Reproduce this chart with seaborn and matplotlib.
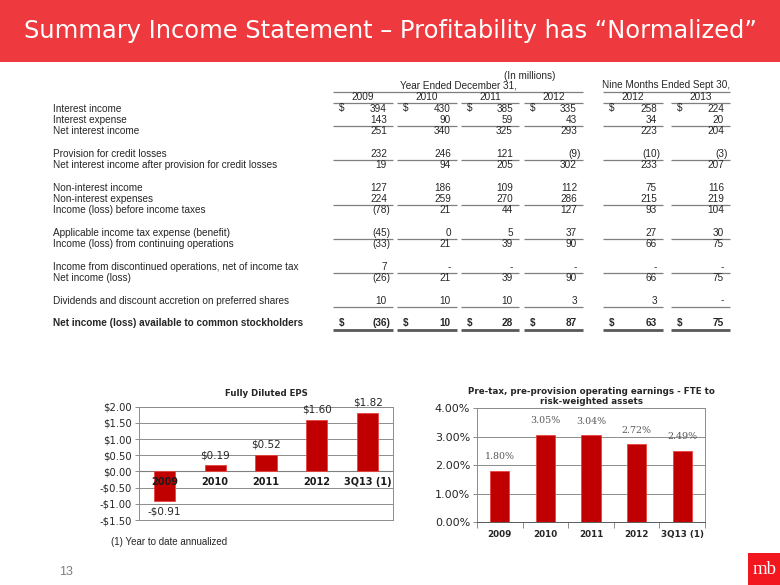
import numpy as np
import pandas as pd
import matplotlib
matplotlib.use("Agg")
import matplotlib.pyplot as plt
from matplotlib.patches import Rectangle
from matplotlib.ticker import FuncFormatter, FixedLocator
import seaborn as sns

# ------------------------------------------------------------------ data
title = "Summary Income Statement \u2013 Profitability has \u201cNormalized\u201d"
units_label = "(In millions)"
group_labels = ["Year Ended December 31,", "Nine Months Ended Sept 30,"]
column_years = ["2009", "2010", "2011", "2012", "2012", "2013"]

row_labels = [
    "Interest income",
    "Interest expense",
    "Net interest income",
    "Provision for credit losses",
    "Net interest income after provision for credit losses",
    "Non-interest income",
    "Non-interest expenses",
    "Income (loss) before income taxes",
    "Applicable income tax expense (benefit)",
    "Income (loss) from continuing operations",
    "Income from discontinued operations, net of income tax",
    "Net income (loss)",
    "Dividends and discount accretion on preferred shares",
    "Net income (loss) available to common stockholders",
]
interest_income = [394, 430, 385, 335, 258, 224]
interest_expense = [143, 90, 59, 43, 34, 20]
net_interest_income = [251, 340, 325, 293, 223, 204]
provision = [232, 246, 121, -9, -10, -3]
nii_after_provision = [19, 94, 205, 302, 233, 207]
non_interest_income = [127, 186, 109, 112, 75, 116]
non_interest_expenses = [224, 259, 270, 286, 215, 219]
income_before_taxes = [-78, 21, 44, 127, 93, 104]
income_tax = [-45, 0, 5, 37, 27, 30]
income_continuing = [-33, 21, 39, 90, 66, 75]
income_discontinued = [7, None, None, None, None, None]
net_income = [-26, 21, 39, 90, 66, 75]
preferred_dividends = [10, 10, 10, 3, 3, None]
net_income_common = [-36, 10, 28, 87, 63, 75]

table_values = [interest_income, interest_expense, net_interest_income, provision,
                nii_after_provision, non_interest_income, non_interest_expenses,
                income_before_taxes, income_tax, income_continuing,
                income_discontinued, net_income, preferred_dividends, net_income_common]

eps_title = "Fully Diluted EPS"
eps_categories = ["2009", "2010", "2011", "2012", "3Q13 (1)"]
eps_values = [-0.91, 0.19, 0.52, 1.60, 1.82]

ppop_title = "Pre-tax, pre-provision operating earnings - FTE to\nrisk-weighted assets"
ppop_categories = ["2009", "2010", "2011", "2012", "3Q13 (1)"]
ppop_values = [1.80, 3.05, 3.04, 2.72, 2.49]

footnote = "(1) Year to date annualized"
page_number = "13"
logo_text = "mb"

# ------------------------------------------------------------------ style
sns.set_theme(style="white")
plt.rcParams["font.family"] = ["DejaVu Sans"]
TXT = "#262626"
RED = "#C00000"
GRID = "#8c8c8c"

fig = plt.figure(figsize=(7.8, 5.85), dpi=100)
fig.patch.set_facecolor("white")

bg = fig.add_axes([0, 0, 1, 1])
bg.set_xlim(0, 780)
bg.set_ylim(585, 0)
bg.axis("off")

# title banner
bg.add_patch(Rectangle((0, 0), 780, 62, color="#EE3A3E", lw=0))
t = bg.text(390, 31, title, color="white", fontsize=16, ha="center", va="center",
            family="DejaVu Sans")
fig.canvas.draw()
w = t.get_window_extent().width
t.set_fontsize(16 * 733 / w)

# ------------------------------------------------------------------ table
TF = "Liberation Sans"
FS = 7.2
col_l = [333, 397, 461, 524, 603, 671]
col_r = [393, 457, 519, 583, 663, 730]
row_slots = [0, 1, 2, 4, 5, 7, 8, 9, 11, 12, 14, 15, 17, 19]
underline_rows = {1, 3, 6, 8, 10, 12}
y0, dy = 108.5, 11.3

bg.text(530, 76, units_label, fontsize=FS, family=TF, color=TXT, ha="center", va="center")
bg.text((col_l[0] + col_r[3]) / 2, 85, group_labels[0], fontsize=FS, family=TF, color=TXT,
        ha="center", va="center")
bg.text((col_l[4] + col_r[5]) / 2, 85, group_labels[1], fontsize=FS, family=TF, color=TXT,
        ha="center", va="center")
bg.hlines(91.5, col_l[0], col_r[3], color="#7f7f7f", lw=0.9)
bg.hlines(91.5, col_l[4], col_r[5], color="#7f7f7f", lw=0.9)
for j, yr in enumerate(column_years):
    bg.text((col_l[j] + col_r[j]) / 2, 97, yr, fontsize=FS, family=TF, color=TXT,
            ha="center", va="center")
    bg.hlines(103, col_l[j], col_r[j], color="#7f7f7f", lw=0.9)

n_rows = len(row_labels)
for i, (lab, vals) in enumerate(zip(row_labels, table_values)):
    y = y0 + dy * row_slots[i]
    bold = (i == n_rows - 1)
    fw = "bold" if bold else "normal"
    bg.text(53, y, lab, fontsize=FS, family=TF, color=TXT, ha="left", va="center",
            fontweight=fw)
    for j, v in enumerate(vals):
        xr = col_r[j] - 6
        if v is None:
            s, x = "-", xr
        elif v < 0:
            s, x = f"({abs(v)})", xr + 3.5
        else:
            s, x = f"{v}", xr
        bg.text(x, y, s, fontsize=FS, family=TF, color=TXT, ha="right", va="center",
                fontweight=fw)
        if i == 0 or bold:
            bg.text(col_l[j] + 6, y, "$", fontsize=FS, family=TF, color=TXT,
                    ha="left", va="center", fontweight=fw)
    if i in underline_rows:
        for j in range(6):
            bg.hlines(y + 6, col_l[j], col_r[j], color="#7f7f7f", lw=0.9)
    if bold:
        for j in range(6):
            bg.hlines(y + 7, col_l[j], col_r[j], color="#595959", lw=2.0)

# ------------------------------------------------------------------ EPS chart
ax1 = fig.add_axes([139 / 780, 1 - 520 / 585, 254 / 780, 113.3 / 585])
df1 = pd.DataFrame({"cat": eps_categories, "val": eps_values})
sns.barplot(data=df1, x="cat", y="val", ax=ax1, color=RED, saturation=1, width=0.42,
            edgecolor="#E8453F", linewidth=0.6, zorder=3)
ax1.set_xlim(-0.5, len(eps_categories) - 0.5)
ax1.set_ylim(-1.5, 2.0)
ax1.yaxis.set_major_locator(FixedLocator(np.arange(-1.5, 2.01, 0.5)))
ax1.yaxis.set_major_formatter(FuncFormatter(
    lambda v, p: f"-${abs(v):.2f}" if v < -1e-9 else f"${abs(v):.2f}"))
ax1.grid(axis="y", color=GRID, lw=0.7, zorder=0)
ax1.set_axisbelow(True)
ax1.axhline(0, color="#7f7f7f", lw=0.8, zorder=2)
ax1.set_xlabel("")
ax1.set_ylabel("")
ax1.set_xticks([])
ax1.tick_params(axis="y", labelsize=7.2, length=3, color=GRID, width=0.7, pad=2,
                labelcolor=TXT, left=True)
for sp in ax1.spines.values():
    sp.set_color(GRID)
    sp.set_linewidth(0.7)
ax1.set_title(eps_title, fontsize=6.2, fontweight="bold", color=TXT, pad=8)
for k, (c, v) in enumerate(zip(eps_categories, eps_values)):
    ax1.annotate(c, (k, 0), xytext=(0, -4), textcoords="offset points", ha="center",
                 va="top", fontsize=7, fontweight="bold", color="#1a1a1a", zorder=5)
    lab = f"-${abs(v):.2f}" if v < 0 else f"${v:.2f}"
    ax1.annotate(lab, (k, v), xytext=(0, -4 if v < 0 else 3.5), textcoords="offset points",
                 ha="center", va="top" if v < 0 else "bottom", fontsize=7.5, color=TXT)

# ------------------------------------------------------------------ PPOP chart
ax2 = fig.add_axes([477 / 780, 1 - 522 / 585, 228 / 780, 114 / 585])
df2 = pd.DataFrame({"cat": ppop_categories, "val": ppop_values})
sns.barplot(data=df2, x="cat", y="val", ax=ax2, color=RED, saturation=1, width=0.42,
            edgecolor="#E8453F", linewidth=0.6, zorder=3)
ax2.set_xlim(-0.5, len(ppop_categories) - 0.5)
ax2.set_ylim(0, 4)
ax2.yaxis.set_major_locator(FixedLocator(np.arange(0, 4.01, 1)))
ax2.yaxis.set_major_formatter(FuncFormatter(lambda v, p: f"{v:.2f}%"))
ax2.xaxis.set_minor_locator(FixedLocator(np.arange(-0.5, len(ppop_categories), 1)))
ax2.grid(axis="y", color=GRID, lw=0.7, zorder=0)
ax2.set_axisbelow(True)
ax2.set_xlabel("")
ax2.set_ylabel("")
ax2.tick_params(axis="y", labelsize=8, length=3, color=GRID, width=0.7, pad=2,
                labelcolor=TXT, left=True)
ax2.tick_params(axis="x", which="major", length=0, pad=6, labelsize=6.3, labelcolor=TXT)
ax2.tick_params(axis="x", which="minor", length=4, color=GRID, width=0.7, bottom=True)
for lbl in ax2.get_xticklabels():
    lbl.set_fontweight("bold")
for sp in ax2.spines.values():
    sp.set_color(GRID)
    sp.set_linewidth(0.7)
ax2.spines["bottom"].set_color("#595959")
ax2.set_title(ppop_title, fontsize=6.3, fontweight="bold", color=TXT, pad=3,
              linespacing=1.1)
for k, v in enumerate(ppop_values):
    ax2.annotate(f"{v:.2f}%", (k, v), xytext=(0, 7), textcoords="offset points",
                 ha="center", va="bottom", fontsize=6.8, family="DejaVu Serif",
                 color="#595959")

# ------------------------------------------------------------------ footer
bg.text(111, 542, footnote, fontsize=7, family=TF, color=TXT, ha="left", va="center")
bg.text(66, 572, page_number, fontsize=9, family=TF, color="#7f7f7f", ha="center",
        va="center")
bg.add_patch(Rectangle((748, 553), 32, 32, color="#F2161E", lw=0))
bg.text(765, 570, logo_text, fontsize=13.5, family="Liberation Serif", color="white",
        ha="center", va="center")

fig.savefig("out.png", dpi=100, facecolor="white")
